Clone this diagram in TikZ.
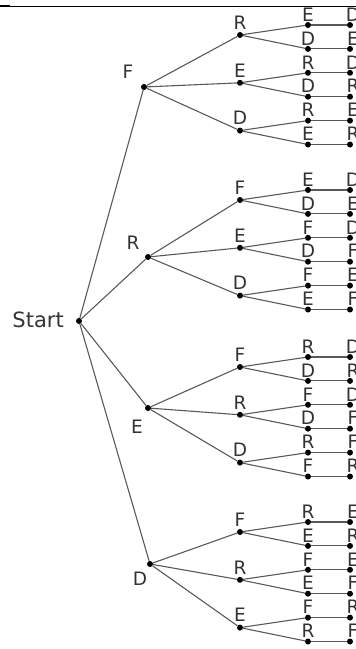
\documentclass[tikz,border=0pt]{standalone}
\usepackage{fontspec}
\setmainfont{DejaVu Sans}
\begin{document}
\begin{tikzpicture}[x=1pt,y=-1pt,
  dot/.style={circle,fill=black,inner sep=0pt,minimum size=6pt},
  lbl/.style={font=\fontsize{18.5}{18.5}\selectfont,text=black!80,inner sep=0pt},
  edge/.style={draw=black!65,line width=1.1pt}]
\useasboundingbox (0,0) rectangle (356,649);
\clip (0,0) rectangle (356,649);
% top rule
\draw[black,line width=0.9pt] (0,6) -- (356,6);
\draw[black,line width=2.2pt] (0,6) -- (10,6);
% root
\node[dot] (S) at (79,321) {};
\node[lbl,font=\fontsize{21}{21}\selectfont,anchor=east] (Sl) at (64,320) {Start};
% level 1
\node[dot] (F) at (144,87) {};  \node[lbl] (Fl) at (128,72) {F};
\node[dot] (R) at (148,257) {}; \node[lbl] (Rl) at (133,243) {R};
\node[dot] (E) at (148,408) {}; \node[lbl] (El) at (137,427) {E};
\node[dot] (D) at (150,564) {}; \node[lbl] (Dl) at (140,579) {D};
\foreach \p in {F,R,E,D} \draw[edge] (S) -- (\p);
% level 2
\foreach \p/\gy/\la/\lb/\lc in {F/25/R/E/D, R/190/F/E/D, E/357/F/R/D, D/522/F/R/E}{
  \foreach \i/\l in {0/\la,1/\lb,2/\lc}{
    \node[dot] (\p\i) at (240,\gy+\i*47.8+10) {};
    \node[lbl] (\p\i l) at (240,\gy+\i*47.8-2.5) {\l};
    \draw[edge] (\p) -- (\p\i);
  }
}
% levels 3 and 4
\foreach \p/\i/\j/\y/\t/\u in {
  F/0/0/25/E/D,    F/0/1/48.9/D/E,  F/1/0/72.8/R/D,  F/1/1/96.7/D/R,  F/2/0/120.6/R/E, F/2/1/144.5/E/R,
  R/0/0/190/E/D,   R/0/1/213.9/D/E, R/1/0/237.8/F/D, R/1/1/261.7/D/F, R/2/0/285.6/F/E, R/2/1/309.5/E/F,
  E/0/0/357/R/D,   E/0/1/380.9/D/R, E/1/0/404.8/F/D, E/1/1/428.7/D/F, E/2/0/452.6/R/F, E/2/1/476.5/F/R,
  D/0/0/522/R/E,   D/0/1/545.9/E/R, D/1/0/569.8/F/E, D/1/1/593.7/E/F, D/2/0/617.6/F/R, D/2/1/641.5/R/F}{
  \node[dot] (\p\i\j-a) at (308,\y) {};
  \node[lbl] (\p\i\j-al) at (308,\y-10.5) {\t};
  \node[dot] (\p\i\j-b) at (350,\y) {};
  \node[lbl] (\p\i\j-bl) at (353,\y-10.5) {\u};
  \draw[edge] (\p\i) -- (\p\i\j-a);
  \draw[edge] (\p\i\j-a) -- (\p\i\j-b);
}
\end{tikzpicture}
\end{document}
